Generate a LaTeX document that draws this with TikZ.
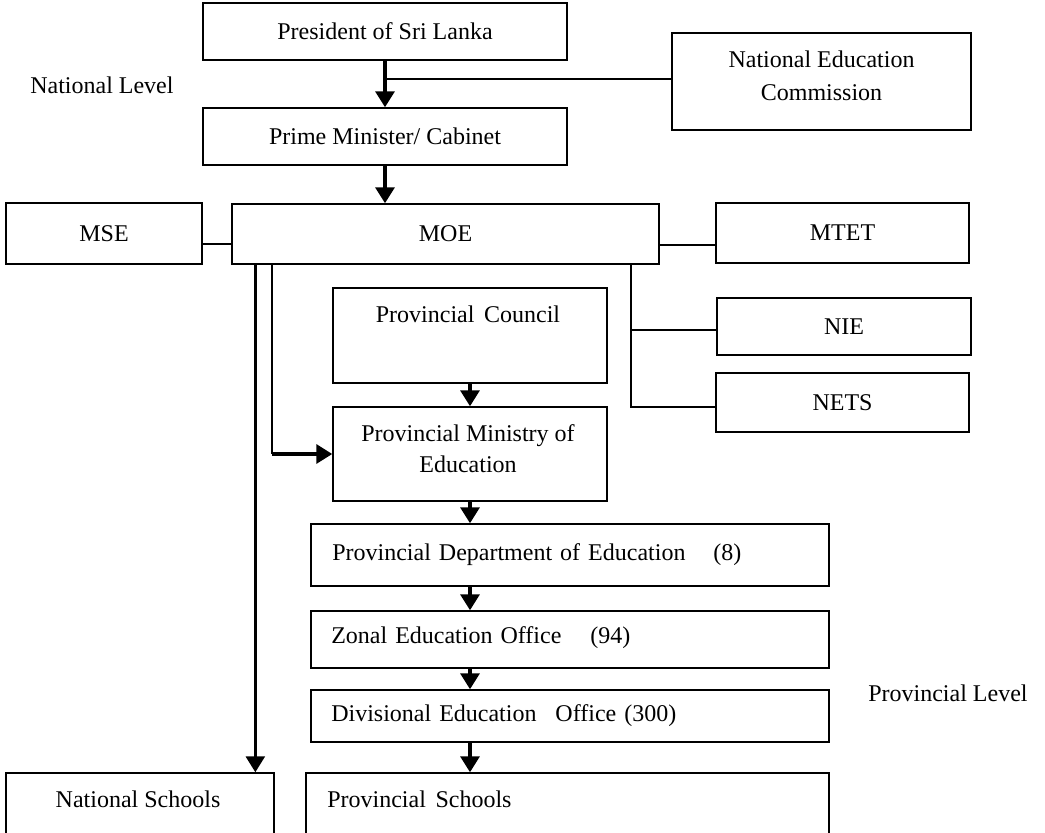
\documentclass[tikz,border=0pt]{standalone}
\usepackage{fontspec}
\setmainfont{Liberation Serif}
\usetikzlibrary{arrows.meta,calc}
\begin{document}
\begin{tikzpicture}[x=0.75pt,y=-0.75pt,
  box/.style={draw, line width=1pt, rectangle, inner sep=0pt, font=\fontsize{18pt}{22pt}\selectfont},
  wh/.style 2 args={minimum width=#1*0.75pt, minimum height=#2*0.75pt},
  txt/.style={font=\fontsize{18pt}{24pt}\selectfont, inner sep=0pt},
  conn/.style={line width=1.3pt},
  arr/.style={line width=3pt, -{Triangle[length=12pt,width=14pt]}},
]
\useasboundingbox (0,0) rectangle (1045,832);
\fill[white] (0,0) rectangle (1045,832);
\clip (0,0) rectangle (1045,832);

% boxes
\node[box, wh={364}{57}] (pres) at (385,31.5) {President of Sri Lanka};
\node[box, wh={364}{57}] (pm) at (385,136.5) {Prime Minister/ Cabinet};
\node[box, wh={299}{97}] (nec) at (821.5,81.5) {};
\node[txt, align=center, font=\fontsize{18pt}{24.75pt}\selectfont] (nect) at (821.5,75.5) {National Education\\Commission};
\node[box, wh={427}{60}] (moe) at (445.5,234) {MOE};
\node[box, wh={196}{61}] (mse) at (104,233.5) {MSE};
\node[box, wh={253}{60}] (mtet) at (842.5,233) {MTET};
\node[box, wh={254}{57}] (nie) at (844,326.5) {NIE};
\node[box, wh={253}{59}] (nets) at (842.5,402.5) {NETS};
\node[box, wh={274}{95}] (pc) at (470,335.5) {};
\node[txt] (pct) at (468,314) {Provincial\hspace{0.15em} Council};
\node[box, wh={274}{94}] (pmoe) at (470,454) {};
\node[txt, align=center, font=\fontsize{18pt}{23.25pt}\selectfont] (pmoet) at (468,448.5) {Provincial Ministry of\\Education};
\node[box, wh={518}{62}] (pde) at (570,555) {};
\node[txt, anchor=west, text width=306.75pt] (pdet) at (332,555) {Provincial Department of Education\hfill(8)};
\node[box, wh={518}{57}] (zeo) at (570,639.5) {};
\node[txt, anchor=west, text width=224.25pt] (zeot) at (331,638) {Zonal Education Office\hfill(94)};
\node[box, wh={518}{52}] (deo) at (570,716) {};
\node[txt, anchor=west, text width=258.75pt] (deot) at (331,716) {Divisional Education\hfill Office (300)};
\node[box, wh={523}{87}] (ps) at (567.5,816.5) {};
\node[txt, anchor=west] (pst) at (327,799) {Provincial\hspace{0.15em} Schools};
\node[box, wh={268}{87}] (ns) at (140,816.5) {};
\node[txt] (nst) at (138,799) {National Schools};

% level labels
\node[txt, anchor=west] (natl) at (30,85) {National Level};
\node[txt, anchor=west] (provl) at (868,693) {Provincial Level};

% connectors
\coordinate (j1) at ($(pres.south)!0.4!(pm.north)$);
\draw[arr] (pres.south) -- (pm.north);
\draw[conn] (j1) -- (j1 -| nec.west);
\draw[arr] (pm.south) -- (pm.south |- moe.north);

\coordinate (m1) at ($(mse.east)+(0,10.5)$);
\draw[conn] (m1) -- (m1 -| moe.west);
\coordinate (m2) at ($(mtet.west)+(0,12)$);
\draw[conn] (m2 -| moe.east) -- (m2);

\coordinate (v1) at ($(moe.south west)+(400,0)$);
\coordinate (n1) at ($(nie.west)+(0,3.5)$);
\coordinate (n2) at ($(nets.west)+(0,4.5)$);
\draw[conn] (v1) |- (n2);
\draw[conn] (v1 |- n1) -- (n1);

\coordinate (v2) at ($(moe.south west)+(41,0)$);
\coordinate (h2) at (v2 |- pmoe.west);
\draw[conn] (v2) -- (h2);
\draw[arr] (h2) -- (pmoe.west);

\coordinate (v3) at ($(moe.south west)+(24,0)$);
\draw[arr, line width=2.6pt] (v3) -- (v3 |- ns.north);

\draw[arr] (pc.south) -- (pmoe.north);
\draw[arr] (pmoe.south) -- (pmoe.south |- pde.north);
\draw[arr] (pde.south -| pmoe.south) -- (zeo.north -| pmoe.south);
\draw[arr] (zeo.south -| pmoe.south) -- (deo.north -| pmoe.south);
\draw[arr] (deo.south -| pmoe.south) -- (ps.north -| pmoe.south);
\end{tikzpicture}
\end{document}
